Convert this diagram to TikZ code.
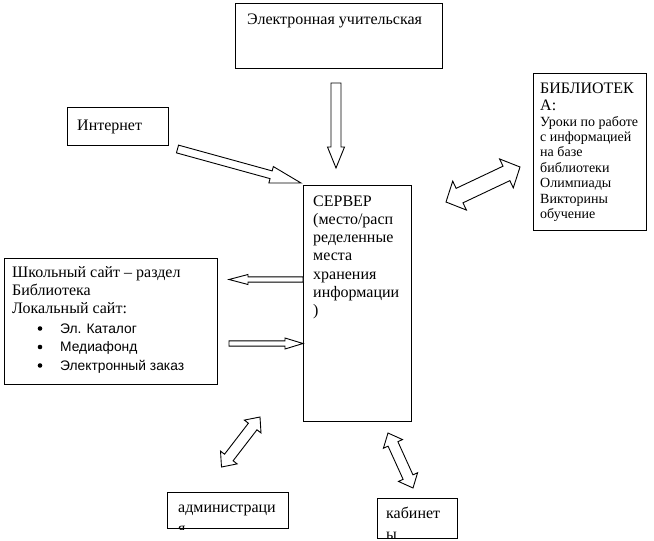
\documentclass[tikz,border=0pt]{standalone}
\usepackage{fontspec}
\setmainfont{Liberation Serif}
\newfontfamily\arialf{Liberation Sans}
\usetikzlibrary{calc}
\tikzset{
  box/.style={draw, line width=1pt, anchor=north west, inner sep=0pt, minimum width=#1},
  txt/.style={anchor=base west, inner sep=0pt, font=\fontsize{16}{18}\selectfont},
  sitetxt/.style={anchor=base west, inner sep=0pt, font=\fontsize{16}{18}\selectfont},
  smalltxt/.style={anchor=base west, inner sep=0pt, font=\fontsize{14}{16}\selectfont},
  itemtxt/.style={anchor=base west, inner sep=0pt, font=\arialf\fontsize{13.8}{16}\selectfont},
  arr/.style={draw, line width=0.9pt, fill=white, line join=miter},
}
% single block arrow: #1 tail, #2 tip, #3 shaft half width, #4 head half width, #5 head length
\newcommand\blockarrow[5]{%
  \path ($(#2)!#5!(#1)$) coordinate (hb);
  \draw[arr] ($(#1)!#3!90:(#2)$) -- ($(hb)!#3!90:(#2)$) -- ($(hb)!#4!90:(#2)$) -- (#2)
    -- ($(hb)!#4!-90:(#2)$) -- ($(hb)!#3!-90:(#2)$) -- ($(#1)!#3!-90:(#2)$) -- cycle;
}
% double block arrow
\newcommand\dblockarrow[5]{%
  \path ($(#1)!#5!(#2)$) coordinate (ha) ($(#2)!#5!(#1)$) coordinate (hb);
  \draw[arr] (#1) -- ($(ha)!#4!90:(#2)$) -- ($(ha)!#3!90:(#2)$) -- ($(hb)!#3!90:(#2)$)
    -- ($(hb)!#4!90:(#2)$) -- (#2) -- ($(hb)!#4!-90:(#2)$) -- ($(hb)!#3!-90:(#2)$)
    -- ($(ha)!#3!-90:(#2)$) -- ($(ha)!#4!-90:(#2)$) -- cycle;
}
\begin{document}
\begin{tikzpicture}[x=1pt,y=-1pt]
\useasboundingbox (0,0) rectangle (654,541);

% boxes
\node[box=207pt, minimum height=65pt] (teach) at (235,3) {};
\node[box=101pt, minimum height=38pt] (inet) at (67,107) {};
\node[box=108pt, minimum height=236pt] (srv) at (303,185) {};
\node[box=113pt, minimum height=157pt] (lib) at (533,73) {};
\node[box=213pt, minimum height=126pt] (site) at (4,258) {};
\node[box=121pt, minimum height=36pt] (adm) at (167,492) {};
\node[box=80pt, minimum height=40pt] (cab) at (377,498) {};

% texts
\node[txt] (teach-t) at (247,24) {Электронная учительская};
\node[txt] (inet-t) at (77,130) {Интернет};
\foreach \t [count=\i from 0] in {{СЕРВЕР},{(место/расп},{ределенные},{места},{хранения},{информации},{)}}
  \node[txt] (srv-\i) at (313,206+18.3*\i) {\t};
\node[txt] (lib-a) at (540,93) {БИБЛИОТЕК};
\node[txt] (lib-b) at (540,110) {А:};
\foreach \t [count=\i from 0] in {{Уроки по работе},{с информацией},{на базе},{библиотеки},{Олимпиады},{Викторины},{обучение}}
  \node[smalltxt] (lib-\i) at (540,126+15.4*\i) {\t};
\foreach \t [count=\i from 0] in {{Школьный сайт – раздел},{Библиотека},{Локальный сайт:}}
  \node[sitetxt] (site-\i) at (12,277+18*\i) {\t};
\foreach \t [count=\i from 0] in {{Эл. Каталог},{Медиафонд},{Электронный заказ}}{
  \node[itemtxt] (item-\i) at (60,333+18.5*\i) {\t};
  \fill (40,328.5+18.5*\i) circle (2.3pt);
}
\begin{scope}
  \clip (adm.north west) rectangle (adm.south east);
  \node[txt] (adm-1) at (178,512) {администраци};
  \node[txt] (adm-2) at (178,533) {я};
\end{scope}
\begin{scope}
  \clip (cab.north west) rectangle (cab.south east);
  \node[txt] (cab-1) at (386,518) {кабинет};
  \node[txt] (cab-2) at (386,539) {ы};
\end{scope}

% arrow end points
\coordinate (t1) at (336,83);   \coordinate (t2) at (336,168);
\coordinate (i1) at (177.5,149); \coordinate (i2) at (301,183);
\coordinate (l1) at (303,279.5); \coordinate (l2) at (229,279.5);
\coordinate (r1) at (229,343.5); \coordinate (r2) at (303,343.5);
\coordinate (b1) at (446,202);  \coordinate (b2) at (520,167);
\coordinate (a1) at (221.5,467); \coordinate (a2) at (260,417);
\coordinate (c1) at (388,433);  \coordinate (c2) at (413,488);

\blockarrow{t1}{t2}{5pt}{8.5pt}{21pt}
\blockarrow{i1}{i2}{4pt}{8.5pt}{31pt}
\blockarrow{l1}{l2}{2.6pt}{5pt}{19pt}
\blockarrow{r1}{r2}{2.6pt}{5.5pt}{18pt}
\dblockarrow{b1}{b2}{8pt}{16pt}{15pt}
\dblockarrow{a1}{a2}{5.4pt}{10.5pt}{12pt}
\dblockarrow{c1}{c2}{5.4pt}{10.5pt}{12pt}
\end{tikzpicture}
\end{document}
